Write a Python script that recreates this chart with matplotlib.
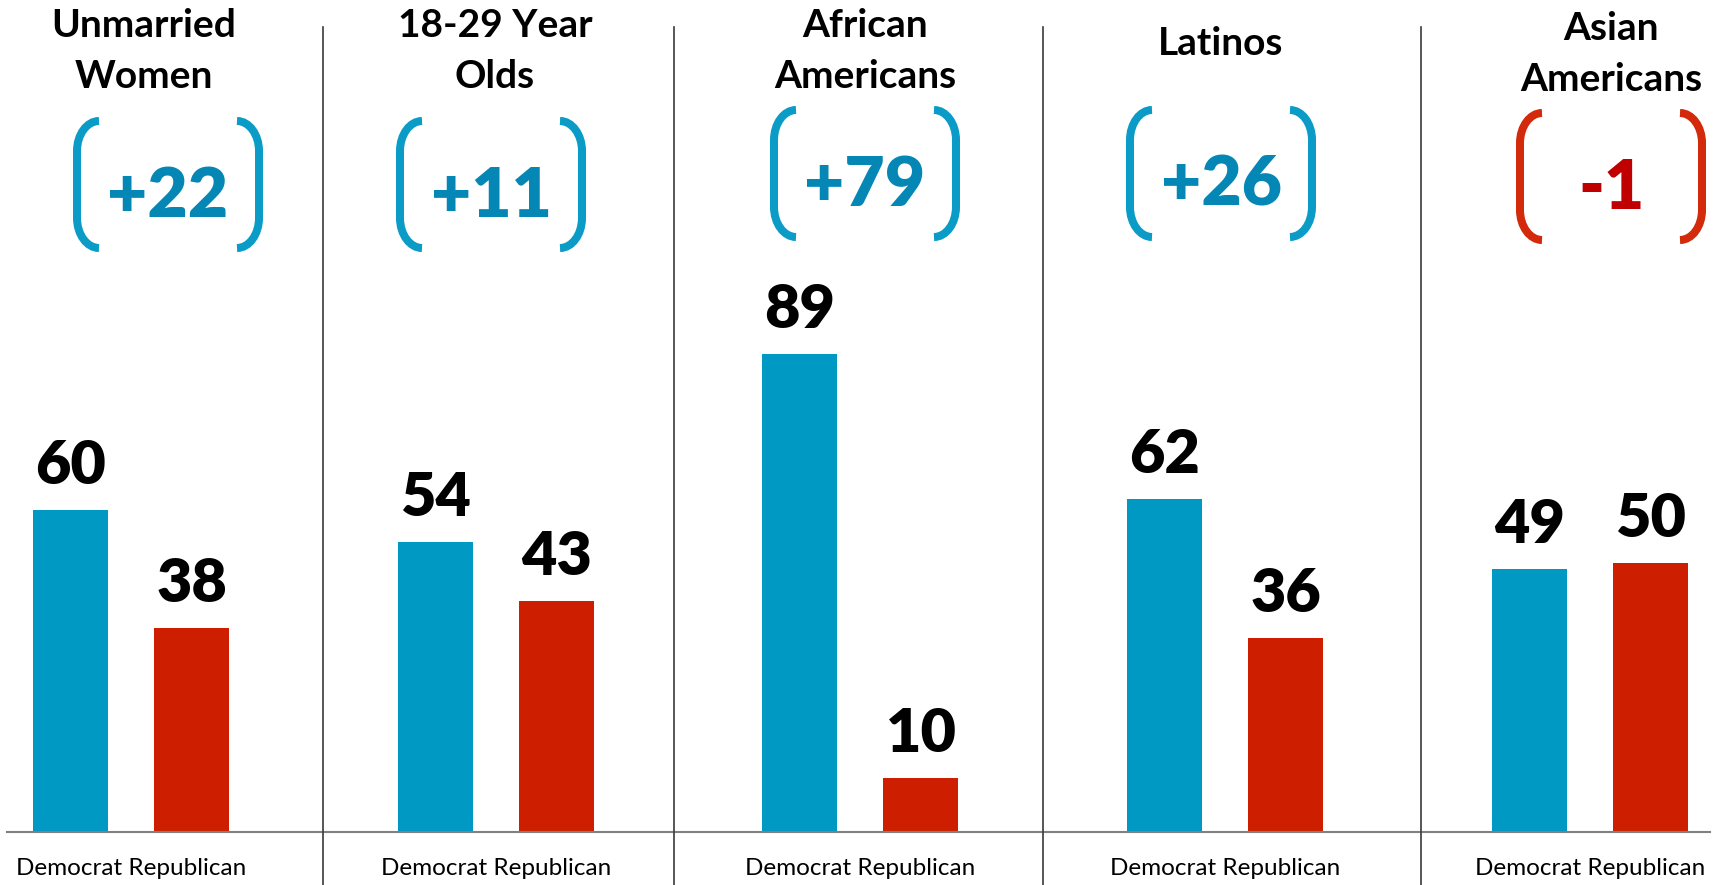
import numpy as np
import matplotlib.pyplot as plt
from matplotlib.path import Path
from matplotlib.patches import PathPatch

# vote share by group
groups = ["Unmarried\nWomen", "18-29 Year\nOlds", "African\nAmericans", "Latinos", "Asian\nAmericans"]
dem = [60, 54, 89, 62, 49]
rep = [38, 43, 10, 36, 50]

BLUE = "#0099C4"
RED = "#CD1F00"
BLUE_BRACKET, BLUE_TEXT = "#0A9CC6", "#0587B5"
RED_BRACKET, RED_TEXT = "#D22A0A", "#C00000"
FONT = "Lato"

W, H = 1716, 885
fig = plt.figure(figsize=(W / 100, H / 100), dpi=100)

# bars live in data units, one unit per group
ax = fig.add_axes([0, 0, 1, 1])
ax.set_xlim(-0.3592, 4.346)
ax.set_ylim(-9.97, 154.99)
ax.axis("off")

x = np.arange(len(groups))
off, bw = 0.166, 0.2056
b1 = ax.bar(x - off, dem, bw, color=BLUE, zorder=2)
b2 = ax.bar(x + off, rep, bw, color=RED, zorder=2)
for bars, vals in ((b1, dem), (b2, rep)):
    for b, v in zip(bars, vals):
        ax.annotate(str(v), (b.get_x() + b.get_width() / 2, v),
                    xytext=(0, 26 * 0.72), textcoords="offset points",
                    ha="center", va="baseline", fontsize=44,
                    fontweight="heavy", family=FONT, color="black")

ax.axhline(0, xmin=7 / W, xmax=1710 / W, color="#808080", lw=1.5, zorder=3)
for g in x:
    ax.annotate("Democrat Republican", (g, 0), xytext=(0, -37 * 0.72),
                textcoords="offset points", ha="center", va="center",
                fontsize=17.5, family=FONT, color="black")

# overlay in pixel coordinates for headers, brackets and dividers
deco = fig.add_axes([0, 0, 1, 1], facecolor="none")
deco.set_xlim(0, W)
deco.set_ylim(H, 0)
deco.axis("off")

for sx in [323, 674, 1043, 1421]:
    deco.plot([sx, sx], [27, H], color="#3a3a3a", lw=1.2)

title_x = [144, 495, 865, 1221, 1611]
title_y = [37, 37, 37, 55, 40]
for tx, ty, name in zip(title_x, title_y, groups):
    for i, line in enumerate(name.split("\n")):
        deco.text(tx, ty + 51 * i, line, ha="center", va="baseline",
                  fontsize=28, fontweight="bold", family=FONT, color="black")


def bracket(cx, top, bot, side):
    # centerline of one rounded bracket, side=-1 left, +1 right
    xv = cx + side * 91
    xt = cx + side * 69
    t, b = top + 4, bot - 4
    rx, ry = 22, 30
    k = 0.55
    verts = [(xt, t), (xt + side * k * rx, t), (xv, t + ry - k * ry), (xv, t + ry),
             (xv, b - ry),
             (xv, b - ry + k * ry), (xt + side * k * rx, b), (xt, b)]
    codes = [Path.MOVETO, Path.CURVE4, Path.CURVE4, Path.CURVE4,
             Path.LINETO, Path.CURVE4, Path.CURVE4, Path.CURVE4]
    return Path(verts, codes)


bracket_x = [168, 491, 865, 1221, 1611]
bracket_top = [117, 117, 106, 106, 109]
for cx, top, d, r in zip(bracket_x, bracket_top, dem, rep):
    margin = d - r
    bc, tc = (BLUE_BRACKET, BLUE_TEXT) if margin >= 0 else (RED_BRACKET, RED_TEXT)
    for side in (-1, 1):
        deco.add_patch(PathPatch(bracket(cx, top, top + 135, side), fill=False,
                                 edgecolor=bc, lw=8 * 0.72, capstyle="butt"))
    label = f"+{margin}" if margin > 0 else str(margin)
    deco.text(cx, top + 100, label, ha="center", va="baseline", fontsize=50,
              fontweight="heavy", family=FONT, color=tc)

fig.savefig("out.png", dpi=100)
